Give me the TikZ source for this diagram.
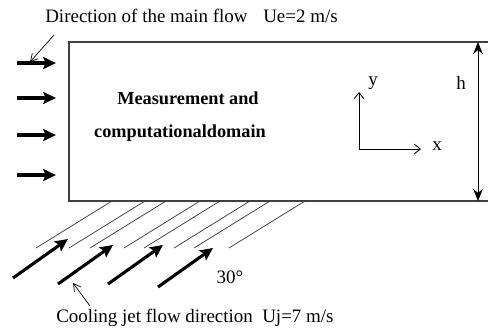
\documentclass[tikz,border=0pt]{standalone}
\usepackage{fontspec}
\setmainfont{Liberation Serif}
\usetikzlibrary{arrows.meta}
\begin{document}
\begin{tikzpicture}[every node/.style={font=\fontsize{13.5}{16}\selectfont,inner sep=0pt},
  wall/.style={line width=1.4pt,black!75},
  flow/.style={-{Stealth[length=3.2mm,width=3mm,inset=0.6mm]},line width=2.2pt},
  hatch/.style={line width=0.5pt,black!80},
  pointer/.style={-{Straight Barb[length=1.8mm,width=2mm]},line width=0.5pt},
  axis/.style={-{Straight Barb[length=1.5mm,width=2.4mm]},line width=0.6pt}]
  \useasboundingbox (0,0) rectangle (12.2,8.275);
  % domain
  \draw[wall] (12.2,7.225)--(1.725,7.225)--(1.725,3.25)--(12.2,3.25);
  \node[font=\fontsize{13}{15}\selectfont\bfseries] (meas) at (4.7,5.825) {Measurement and};
  \node[font=\fontsize{13}{15}\selectfont\bfseries] (comp) at (4.5,4.95) {computationaldomain};
  % height
  \coordinate (htop) at (11.95,7.225); \coordinate (hbot) at (11.95,3.25);
  \draw[{Stealth[length=3mm,width=2.4mm]}-{Stealth[length=3mm,width=2.4mm]},line width=0.6pt] (hbot)--(htop);
  \node (lh) at (11.525,6.2) {h};
  % axes
  \coordinate (o) at (8.975,4.55);
  \coordinate (ox) at (10.525,4.55); \coordinate (oy) at (8.975,5.975);
  \draw[axis] (o)--(ox); \draw[axis] (o)--(oy);
  \node (lx) at (10.925,4.625) {x};
  \node (ly) at (9.325,6.2) {y};
  % main flow
  \foreach \y in {6.7,5.825,4.9,3.9}
    \draw[flow] (0.425,\y)--(1.4,\y);
  \node[anchor=west] (dir) at (1.125,7.875) {Direction of the main flow};
  \node[anchor=west] (ue) at (6.575,7.875) {Ue=2 m/s};
  \coordinate (p1) at (1.35,7.4); \coordinate (p2) at (0.75,6.725);
  \draw[pointer] (p1)--(p2);
  % jet channels
  \foreach \t in {2.8,3.625,4.15,5.0,5.5,6.25,6.75,7.625}
    \draw[hatch] (\t,3.25)--++(-1.9,-1.175);
  \foreach \x/\y in {0.325/1.325,1.45/1.175,2.7/1.175,3.95/1.1}
    \draw[flow] (\x,\y)--++(1.375,0.975);
  \node (ang) at (5.75,1.35) {30°};
  \node[anchor=west] (cool) at (1.4,0.325) {Cooling jet flow direction};
  \node[anchor=west] (uj) at (6.55,0.325) {Uj=7 m/s};
  \coordinate (q1) at (2.25,0.625); \coordinate (q2) at (1.825,1.2);
  \draw[pointer] (q1)--(q2);
\end{tikzpicture}
\end{document}
